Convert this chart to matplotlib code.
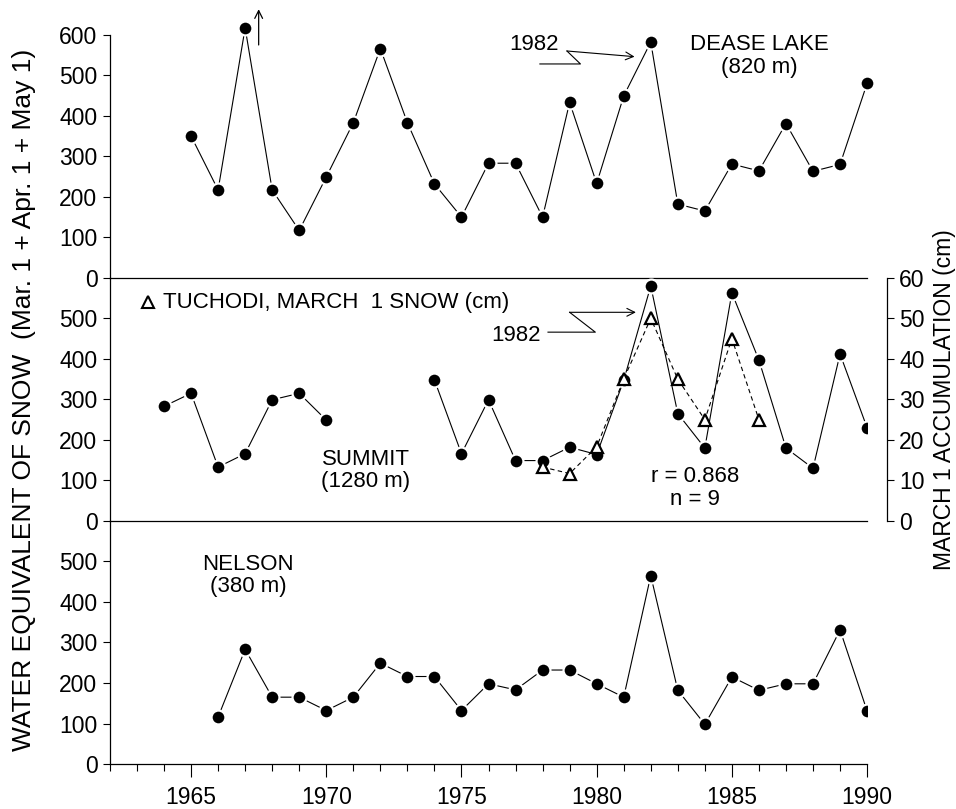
import numpy as np
import matplotlib
matplotlib.use("Agg")
import matplotlib.pyplot as plt
from matplotlib.ticker import MultipleLocator

plt.rcParams['font.family'] = ['Liberation Sans', 'DejaVu Sans']

# Dease Lake (820 m), 1965-1990
dease_years = np.arange(1965, 1991)
dease = [350, 217, 617, 217, 117, 249, 383, 566, 383, 232, 150, 283, 283,
         150, 433, 233, 449, 582, 182, 165, 281, 264, 381, 263, 280, 480]

# Summit (1280 m), 1964-1990, no data 1971-1973
summit_years = np.arange(1964, 1991)
summit = [283, 315, 133, 166, 299, 315, 249, np.nan, np.nan, np.nan,
          348, 166, 299, 149, 149, 182, 164, 347, 580, 265, 180, 563,
          397, 180, 130, 412, 230]

# Tuchodi, March 1 snow (cm)
tuchodi_years = np.arange(1978, 1987)
tuchodi = [13.3, 11.7, 18.3, 35, 50, 35, 25, 45, 25]

# Nelson (380 m), 1966-1990
nelson_years = np.arange(1966, 1991)
nelson = [116, 283, 165, 165, 132, 165, 249, 216, 216, 132, 198, 183, 232,
          232, 198, 165, 465, 182, 98, 215, 182, 198, 198, 331, 131]

FS = 16
TFS = 16.5
fig = plt.figure(figsize=(9.56, 8.09), dpi=100)
left, right, bottom, top = 0.115, 0.907, 0.0556, 0.957
h = (top - bottom) / 3
ax_top = fig.add_axes([left, bottom + 2 * h, right - left, h])
ax_mid = fig.add_axes([left, bottom + h, right - left, h])
ax_bot = fig.add_axes([left, bottom, right - left, h])

line_kw = dict(color='black', lw=0.8, marker='o', markersize=10,
               markerfacecolor='black', markeredgecolor='white',
               markeredgewidth=1.6)

for ax in (ax_top, ax_mid, ax_bot):
    ax.set_xlim(1962, 1990)
    ax.set_ylim(0, 600)
    for s in ('top', 'right'):
        ax.spines[s].set_visible(False)
    ax.spines['left'].set_linewidth(0.9)
    ax.spines['bottom'].set_linewidth(0.9)
    ax.tick_params(axis='y', direction='out', length=5, width=0.8,
                   labelsize=TFS, pad=4)
    ax.patch.set_visible(False)

ax_top.set_yticks(np.arange(0, 601, 100))
ax_mid.set_yticks(np.arange(0, 501, 100))
ax_bot.set_yticks(np.arange(0, 501, 100))

for ax in (ax_top, ax_mid):
    ax.tick_params(axis='x', bottom=False, labelbottom=False)

ax_bot.xaxis.set_major_locator(MultipleLocator(5))
ax_bot.xaxis.set_minor_locator(MultipleLocator(1))
ax_bot.tick_params(axis='x', which='major', direction='out', length=9,
                   width=0.8, labelsize=TFS, pad=7)
ax_bot.tick_params(axis='x', which='minor', direction='out', length=5,
                   width=0.8)

# Top panel: Dease Lake
ax_top.plot(dease_years, dease, clip_on=False, zorder=3, **line_kw)
ax_top.annotate('', xy=(1967.5, 670), xytext=(1967.5, 568),
                arrowprops=dict(arrowstyle='->', lw=0.9, color='black',
                                mutation_scale=14),
                annotation_clip=False)
ax_top.text(1986.0, 548, 'DEASE LAKE\n(820 m)', ha='center', va='center',
            fontsize=FS, linespacing=1.1)
ax_top.text(1977.7, 575, '1982', ha='center', va='center', fontsize=FS)
ax_top.plot([1977.9, 1979.4, 1978.9], [528, 528, 560], color='black', lw=0.8)
ax_top.annotate('', xy=(1981.4, 546), xytext=(1978.9, 560),
                arrowprops=dict(arrowstyle='->', lw=0.8, color='black',
                                mutation_scale=14, shrinkA=0, shrinkB=0))

# Middle panel: Summit + Tuchodi
ax_mid.plot(summit_years, summit, zorder=3, **line_kw)
ax_r = ax_mid.twinx()
ax_r.set_ylim(0, 60)
ax_r.set_yticks(np.arange(0, 61, 10))
for s in ('top', 'left', 'bottom'):
    ax_r.spines[s].set_visible(False)
ax_r.spines['right'].set_position(('outward', 14))
ax_r.spines['right'].set_linewidth(0.9)
ax_r.tick_params(axis='y', direction='out', length=5, width=0.8,
                 labelsize=TFS, pad=4)
ax_r.plot(tuchodi_years, tuchodi, color='black', lw=0.8, ls=(0, (4, 3)),
          marker='^', markersize=9, markerfacecolor='white',
          markeredgecolor='black', markeredgewidth=1.6, zorder=4)
ax_r.set_ylabel('MARCH 1 ACCUMULATION (cm)', fontsize=FS + 0.5, labelpad=6)

ax_mid.plot([1963.4], [540], marker='^', markersize=8, color='black',
            markerfacecolor='white', markeredgewidth=1.5, ls='none')
ax_mid.text(1963.95, 540, 'TUCHODI, MARCH  1 SNOW (cm)', ha='left',
            va='center', fontsize=FS)
ax_mid.text(1971.45, 125, 'SUMMIT\n(1280 m)', ha='center', va='center',
            fontsize=FS, linespacing=1.1)
ax_mid.text(1983.65, 82, 'r = 0.868\nn = 9', ha='center', va='center',
            fontsize=FS, linespacing=1.1)
ax_mid.text(1977.0, 458, '1982', ha='center', va='center', fontsize=FS)
ax_mid.plot([1978.2, 1979.95, 1979.0], [466, 466, 515], color='black', lw=0.8)
ax_mid.annotate('', xy=(1981.45, 515), xytext=(1979.0, 515),
                arrowprops=dict(arrowstyle='->', lw=0.8, color='black',
                                mutation_scale=14, shrinkA=0, shrinkB=0))

# Bottom panel: Nelson
ax_bot.plot(nelson_years, nelson, zorder=3, **line_kw)
ax_bot.text(1967.1, 465, 'NELSON\n(380 m)', ha='center', va='center',
            fontsize=FS, linespacing=1.1)

fig.text(0.025, (bottom + top) / 2,
         'WATER EQUIVALENT OF SNOW  (Mar. 1 + Apr. 1 + May 1)',
         rotation=90, ha='center', va='center', fontsize=19)

fig.savefig('out.png', dpi=100)
